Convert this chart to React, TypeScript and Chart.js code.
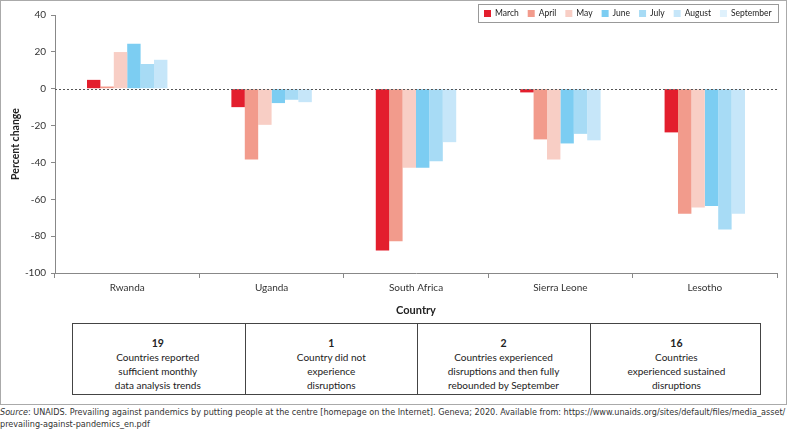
import React, { useEffect, useRef } from "react";
import { Chart, registerables } from "chart.js";

Chart.register(...registerables);

const countries = ["Rwanda", "Uganda", "South Africa", "Sierra Leone", "Lesotho"];
const months = ["March", "April", "May", "June", "July", "August", "September"];
const marchValues = [4.8, -10, -87.8, -2, -23.7];
const aprilValues = [1.2, -38.4, -82.8, -27.5, -67.9];
const mayValues = [19.9, -19.6, -42.9, -38.4, -64.5];
const juneValues = [24.4, -7.8, -42.9, -29.7, -63.6];
const julyValues = [13.4, -6, -39.3, -24.5, -76.4];
const augustValues = [15.7, -7.3, -29, -28, -67.9];
const septemberValues: (number | null)[] = [null, null, null, null, null];
const monthColors = ["#e31e2d", "#f29b8c", "#f8cec5", "#7ccdf2", "#a7dbf5", "#c6e6f9", "#dff1fc"];
const yMin = -100;
const yMax = 40;
const yStep = 20;

const summaryCounts = ["19", "1", "2", "16"];
const summaryTexts = [
  ["Countries reported", "sufficient monthly", "data analysis trends"],
  ["Country did not", "experience", "disruptions"],
  ["Countries experienced", "disruptions and then fully", "rebounded by September"],
  ["Countries", "experienced sustained", "disruptions"],
];

const FONT = "Lato, 'Open Sans', sans-serif";

const zeroLinePlugin = {
  id: "zeroLine",
  afterDatasetsDraw(chart: any) {
    const { ctx, chartArea, scales } = chart;
    const y = Math.round(scales.y.getPixelForValue(0)) + 0.5;
    ctx.save();
    ctx.strokeStyle = "#555";
    ctx.lineWidth = 1;
    ctx.setLineDash([2, 2]);
    ctx.beginPath();
    ctx.moveTo(chartArea.left, y);
    ctx.lineTo(chartArea.right, y);
    ctx.stroke();
    ctx.restore();
  },
};

const boxLegendPlugin = {
  id: "boxLegend",
  afterDraw(chart: any) {
    const ctx = chart.ctx;
    ctx.save();
    ctx.font = `8.5px ${FONT}`;
    const box = 7;
    const gap = 4;
    const spacing = 9;
    const padX = 6;
    const items = chart.data.datasets.map((ds: any) => ({
      label: ds.label,
      color: ds.backgroundColor,
      w: ctx.measureText(ds.label).width,
    }));
    const total =
      items.reduce((s: number, it: any) => s + box + gap + it.w, 0) +
      spacing * (items.length - 1) +
      padX * 2;
    const right = 778;
    const top = 4;
    const height = 18;
    const left = Math.round(right - total);
    ctx.fillStyle = "#fff";
    ctx.fillRect(left, top, right - left, height);
    ctx.strokeStyle = "#999";
    ctx.lineWidth = 1;
    ctx.strokeRect(left + 0.5, top + 0.5, right - left, height);
    let x = left + padX;
    const cy = top + height / 2 + 0.5;
    ctx.textBaseline = "middle";
    ctx.textAlign = "left";
    items.forEach((it: any) => {
      ctx.fillStyle = it.color;
      ctx.fillRect(x, cy - box / 2, box, box);
      x += box + gap;
      ctx.fillStyle = "#222";
      ctx.fillText(it.label, x, cy);
      x += it.w + spacing;
    });
    ctx.restore();
  },
};

export default function App() {
  const canvasRef = useRef<HTMLCanvasElement | null>(null);

  useEffect(() => {
    if (!canvasRef.current) return;
    const series = [marchValues, aprilValues, mayValues, juneValues, julyValues, augustValues, septemberValues];
    const chart = new Chart(canvasRef.current, {
      type: "bar",
      data: {
        labels: countries,
        datasets: months.map((m, i) => ({
          label: m,
          data: series[i],
          backgroundColor: monthColors[i],
          borderWidth: 0,
          hidden: i === 6,
          barPercentage: 1,
          categoryPercentage: 0.557,
        })),
      },
      options: {
        animation: false,
        responsive: false,
        maintainAspectRatio: false,
        layout: { padding: { left: 0, right: 10, top: 15, bottom: 0 } },
        plugins: {
          legend: { display: false },
          tooltip: { enabled: false },
        },
        scales: {
          x: {
            type: "category",
            grid: {
              offset: true,
              drawOnChartArea: false,
              drawTicks: true,
              tickLength: 5,
              color: "#888",
            },
            border: { color: "#888" },
            ticks: {
              padding: 4,
              color: "#333",
              font: { family: FONT, size: 10 },
            },
            title: {
              display: true,
              text: "Country",
              color: "#222",
              font: { family: FONT, size: 11, weight: "bold" },
              padding: { top: 0, bottom: 3 },
            },
            afterFit: (s: any) => {
              s.height = 47;
            },
          },
          y: {
            min: yMin,
            max: yMax,
            ticks: {
              stepSize: yStep,
              padding: 5,
              color: "#333",
              font: { family: FONT, size: 10 },
            },
            grid: {
              drawOnChartArea: false,
              drawTicks: true,
              tickLength: 4,
              color: "#888",
            },
            border: { color: "#888" },
            title: {
              display: true,
              text: "Percent change",
              color: "#222",
              font: { family: FONT, size: 10.5, weight: "bold" },
              padding: { top: 9, bottom: 0 },
            },
            afterFit: (s: any) => {
              s.width = 55;
            },
          },
        },
      },
      plugins: [zeroLinePlugin, boxLegendPlugin],
    });
    return () => chart.destroy();
  }, []);

  const cellLefts = [71.5, 244.5, 416.7, 589.6];
  const cellWidth = 172.6;

  return (
    <div
      style={{
        position: "absolute",
        left: 0,
        top: 0,
        width: 787,
        height: 430,
        background: "#fff",
        fontFamily: FONT,
        overflow: "hidden",
      }}
    >
      <div
        style={{
          position: "absolute",
          left: 0,
          top: 0,
          width: 785,
          height: 403,
          border: "1px solid #aaa",
        }}
      />
      <canvas
        ref={canvasRef}
        width={787}
        height={320}
        style={{ position: "absolute", left: 0, top: 0, width: 787, height: 320 }}
      />
      <div
        style={{
          position: "absolute",
          left: 71.5,
          top: 322.5,
          width: 689.5,
          height: 72,
          border: "1px solid #444",
          boxSizing: "border-box",
        }}
      />
      {summaryCounts.map((c, i) => (
        <div
          key={c + i}
          style={{
            position: "absolute",
            left: cellLefts[i],
            top: 322.5,
            width: cellWidth,
            height: 72,
            borderLeft: i > 0 ? "1px solid #444" : "none",
            boxSizing: "border-box",
            textAlign: "center",
            fontSize: 10,
            lineHeight: "14px",
            color: "#222",
            paddingTop: 13,
          }}
        >
          <div style={{ fontWeight: "bold", fontSize: 10.5 }}>{c}</div>
          {summaryTexts[i].map((t, j) => (
            <div key={j}>{t}</div>
          ))}
        </div>
      ))}
      <div
        style={{
          position: "absolute",
          left: 0,
          top: 407,
          width: 787,
          fontFamily: "'Liberation Sans Narrow', 'DejaVu Sans Condensed', Lato, sans-serif",
          fontSize: 9,
          lineHeight: "11.5px",
          color: "#333",
          whiteSpace: "nowrap",
        }}
      >
        <span style={{ fontStyle: "italic" }}>Source</span>: UNAIDS. Prevailing against pandemics by putting people at
        the centre [homepage on the Internet]. Geneva; 2020. Available from:
        https://www.unaids.org/sites/default/files/media_asset/
        <br />
        prevailing-against-pandemics_en.pdf
      </div>
    </div>
  );
}
